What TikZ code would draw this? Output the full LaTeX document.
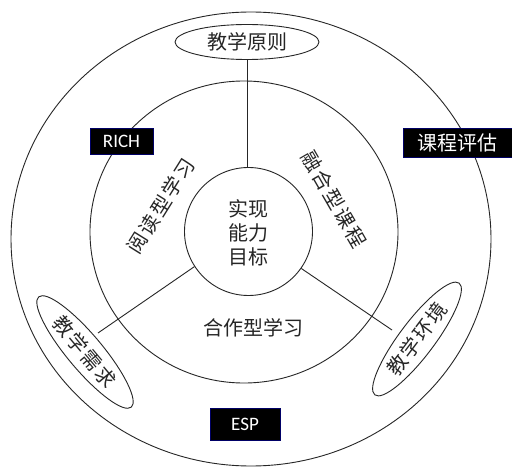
\documentclass[tikz,border=0pt]{standalone}
\usepackage{fontspec}
\setmainfont{Carlito}
\newfontfamily\cjk{Noto Sans CJK SC}
\newfontfamily\cjksp[LetterSpace=10]{Noto Sans CJK SC}
\usetikzlibrary{shapes.geometric}
\tikzset{
  ring/.style={draw=black!85, line width=0.9pt, ellipse, inner sep=0pt},
  oval/.style={draw=black!85, line width=0.9pt, ellipse, inner sep=0pt, fill=white,
    minimum height=35pt, text=black!85},
  conn/.style={draw=black!85, line width=0.9pt},
  lbl/.style={text=black!85, inner sep=0pt},
  blackbox/.style={draw=black!60!blue, fill=black, text=white, inner sep=0pt, line width=0.6pt},
  cjkfont/.style={font=\cjk\fontsize{20}{24}\selectfont},
  cjkspfont/.style={font=\cjksp\fontsize{20}{24}\selectfont}
}
\begin{document}
\begin{tikzpicture}[x=1pt,y=-1pt]
\useasboundingbox (0,0) rectangle (512,468);
\fill[white] (0,0) rectangle (512,468);
% rings
\node[ring, minimum width=480pt, minimum height=454pt] (outer) at (251,239) {};
\node[ring, minimum width=308pt, minimum height=302pt] (middle) at (244,232) {};
\node[ring, circle, minimum size=128pt] (inner) at (248.5,231.5) {};
% centre text
\node[lbl, cjkfont, align=center] (goal) at (248,233) {实现\\能力\\目标};
% top ellipse
\node[oval, cjkfont, minimum width=144pt] (top) at (247,42) {教学原则};
% free ends
\coordinate (lend) at (98,333);
\coordinate (rend) at (392,330);
% connectors
\draw[conn] (top.south) -- (top.south |- inner.north);
\draw[conn] (inner.213) -- (lend);
\draw[conn] (inner.-35) -- (rend);
% side ellipses
\node[oval, cjkspfont, minimum width=144pt, rotate=-50] (need) at (85,352) {教学需求};
\node[oval, cjkspfont, minimum width=140pt, rotate=53] (env) at (417,339) {教学环境};
% ring labels
\node[lbl, cjkspfont, rotate=58] (read) at (161,206) {阅读型学习};
\node[lbl, cjkspfont, rotate=-60] (fuse) at (334,199) {融合型课程};
\node[lbl, cjkfont] (coop) at (253,328) {合作型学习};
% black boxes
\node[blackbox, minimum width=63pt, minimum height=26pt, font=\fontsize{19}{20}\selectfont] (rich) at (121.5,141) {RICH};
\node[blackbox, minimum width=109pt, minimum height=29pt, cjkfont] (eval) at (457.5,142.5) {课程评估};
\node[blackbox, minimum width=70pt, minimum height=32pt, font=\fontsize{19}{20}\selectfont] (esp) at (245,424) {ESP};
\end{tikzpicture}
\end{document}
